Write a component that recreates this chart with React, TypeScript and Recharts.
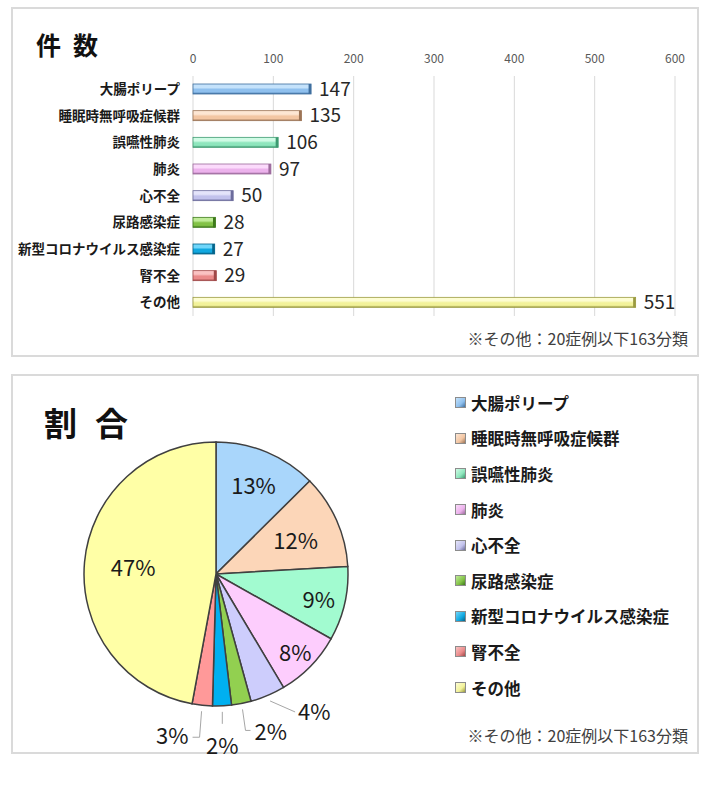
import React from 'react';
import {
  BarChart, Bar, XAxis, YAxis, CartesianGrid, LabelList,
  PieChart, Pie, Cell
} from 'recharts';

const categories = [
  '大腸ポリープ', '睡眠時無呼吸症候群', '誤嚥性肺炎', '肺炎', '心不全',
  '尿路感染症', '新型コロナウイルス感染症', '腎不全', 'その他'
];
const counts = [147, 135, 106, 97, 50, 28, 27, 29, 551];
const xTicks = [0, 100, 200, 300, 400, 500, 600];
const pctLabels = ['13%', '12%', '9%', '8%', '4%', '2%', '2%', '3%', '47%'];
const noteText = '※その他：20症例以下163分類';

const FONT = '"Noto Sans CJK JP", "Noto Sans", sans-serif';

// bar colours: light top, body, dark edge
const BAR_COLORS = [
  { light: '#c4e2fb', base: '#8fc0ee', dark: '#3f6f9f' },
  { light: '#fde6d3', base: '#f3c6a3', dark: '#9c7456' },
  { light: '#cffbe5', base: '#8ee6bd', dark: '#3c9a70' },
  { light: '#fbdafb', base: '#ecb2ec', dark: '#9c6a9c' },
  { light: '#e4e4fa', base: '#c2c2ec', dark: '#6c6c9c' },
  { light: '#c0ec98', base: '#82c246', dark: '#3e7a1c' },
  { light: '#70d6fa', base: '#10a8e0', dark: '#05648a' },
  { light: '#fac2c2', base: '#ea8a8a', dark: '#a04848' },
  { light: '#fdfdd2', base: '#f2f29a', dark: '#9a9a40' },
];
const PIE_COLORS = [
  '#a9d6fb', '#fcd6b8', '#a2fbd0', '#fdcdfd', '#cdcdfc',
  '#92d050', '#00b0f0', '#ff9999', '#ffffa6'
];

const barData = categories.map((name, i) => ({ name, value: counts[i] }));
const pieData = categories.map((name, i) => ({ name, value: counts[i] }));

const BarShape = (props: any) => {
  const { x, y, width, height, index } = props;
  const c = BAR_COLORS[index] || BAR_COLORS[0];
  if (!width) return null;
  return (
    <g>
      <rect x={x} y={y} width={width} height={height} fill={`url(#barGrad${index})`} stroke={c.dark} strokeWidth={0.8} />
      <rect x={x + width - 2.5} y={y} width={2.5} height={height} fill={c.dark} />
    </g>
  );
};

const RAD = Math.PI / 180;
const INSIDE_R = [0.74, 0.66, 0.8, 0.84, 0, 0, 0, 0, 0.63];

const renderPieLabel = (p: any) => {
  const { cx, cy, midAngle, outerRadius, index } = p;
  const cos = Math.cos(-midAngle * RAD);
  const sin = Math.sin(-midAngle * RAD);
  const txt = pctLabels[index];
  const textStyle = { fontFamily: FONT, fontSize: 22, fill: '#1a1a1a' };
  if (index < 4 || index === 8) {
    const r = outerRadius * INSIDE_R[index];
    return (
      <text x={cx + r * cos} y={cy + r * sin} textAnchor="middle" dominantBaseline="central" style={textStyle}>
        {txt}
      </text>
    );
  }
  const sx = cx + (outerRadius + 6) * cos;
  const sy = cy + (outerRadius + 6) * sin;
  const line = { stroke: '#a6a6a6', strokeWidth: 1, fill: 'none' };
  if (index === 4) {
    const ex = sx + 25, ey = sy + 11;
    return (
      <g>
        <path d={`M${sx},${sy}L${ex},${ey}`} {...line} />
        <text x={ex + 3} y={ey - 2} dominantBaseline="central" style={textStyle}>{txt}</text>
      </g>
    );
  }
  if (index === 5) {
    const mx = sx + 3, my = sy + 21;
    return (
      <g>
        <path d={`M${sx},${sy}L${mx},${my}L${mx + 5},${my}`} {...line} />
        <text x={mx + 9} y={my} dominantBaseline="central" style={textStyle}>{txt}</text>
      </g>
    );
  }
  if (index === 6) {
    const my = sy + 12;
    return (
      <g>
        <path d={`M${sx},${sy}L${sx},${my}`} {...line} />
        <text x={sx} y={my + 20} textAnchor="middle" dominantBaseline="central" style={textStyle}>{txt}</text>
      </g>
    );
  }
  const mx = sx - 2, my = sy + 26;
  return (
    <g>
      <path d={`M${sx},${sy}L${mx},${my}L${mx - 7},${my}`} {...line} />
      <text x={mx - 11} y={my - 3} textAnchor="end" dominantBaseline="central" style={textStyle}>{txt}</text>
    </g>
  );
};

const PieLegend = () => (
  <div style={{ position: 'absolute', left: 455, top: 385, fontFamily: FONT }}>
    {categories.map((name, i) => (
      <div key={name} style={{ height: 35.6, display: 'flex', alignItems: 'center' }}>
        <div
          style={{
            width: 9, height: 9, border: '1px solid #8c8c8c',
            background: `linear-gradient(135deg, ${BAR_COLORS[i].light}, ${BAR_COLORS[i].base} 60%, ${BAR_COLORS[i].dark})`,
          }}
        />
        <span style={{ marginLeft: 5, fontSize: 16.5, fontWeight: 700, color: '#1a1a1a', whiteSpace: 'nowrap' }}>{name}</span>
      </div>
    ))}
  </div>
);

const panel: React.CSSProperties = {
  position: 'absolute', left: 11, width: 688, border: '2px solid #dadada', boxSizing: 'border-box', background: '#fff',
};

export default function App() {
  return (
    <div style={{ position: 'absolute', left: 0, top: 0, width: 710, height: 800, background: '#fff', fontFamily: FONT }}>
      <div style={{ ...panel, top: 7, height: 350 }} />
      <div style={{ ...panel, top: 374, height: 380 }} />

      <div style={{ position: 'absolute', left: 0, top: 0 }}>
        <BarChart
          width={710}
          height={360}
          data={barData}
          layout="vertical"
          margin={{ top: 40, right: 35, bottom: 44, left: 0 }}
        >
          <defs>
            {BAR_COLORS.map((c, i) => (
              <linearGradient key={i} id={`barGrad${i}`} x1="0" y1="0" x2="0" y2="1">
                <stop offset="0%" stopColor={c.light} />
                <stop offset="35%" stopColor={c.light} />
                <stop offset="55%" stopColor={c.base} />
                <stop offset="80%" stopColor={c.base} />
                <stop offset="100%" stopColor={c.dark} />
              </linearGradient>
            ))}
          </defs>
          <CartesianGrid horizontal={false} stroke="#d9d9d9" />
          <XAxis
            type="number"
            orientation="top"
            domain={[0, 600]}
            ticks={xTicks}
            height={36}
            axisLine={false}
            tickLine={false}
            tickSize={0}
            tickMargin={13}
            tick={{ fontSize: 12, fill: '#595959', fontFamily: FONT }}
          />
          <YAxis
            type="category"
            dataKey="name"
            width={193}
            axisLine={false}
            tickLine={false}
            tickSize={0}
            tickMargin={13}
            interval={0}
            tick={{ fontSize: 13.5, fontWeight: 700, fill: '#1a1a1a', fontFamily: FONT }}
          />
          <Bar dataKey="value" barSize={10} shape={<BarShape />} isAnimationActive={false}>
            <LabelList dataKey="value" position="right" offset={8} style={{ fontSize: 19, fill: '#262626', fontFamily: FONT }} />
          </Bar>
        </BarChart>
      </div>

      <div style={{ position: 'absolute', left: 0, top: 374 }}>
        <PieChart width={710} height={390} margin={{ top: 0, right: 0, bottom: 0, left: 0 }}>
          <Pie
            data={pieData}
            dataKey="value"
            nameKey="name"
            cx={216}
            cy={200}
            outerRadius={132}
            startAngle={90}
            endAngle={-270}
            stroke="#404040"
            strokeWidth={1.5}
            label={renderPieLabel}
            labelLine={false}
            isAnimationActive={false}
          >
            {pieData.map((d, i) => (
              <Cell key={d.name} fill={PIE_COLORS[i]} />
            ))}
          </Pie>
        </PieChart>
      </div>
      <PieLegend />

      <div style={{ position: 'absolute', left: 36, top: 26, fontSize: 25, fontWeight: 700, color: '#111', letterSpacing: 12 }}>件数</div>
      <div style={{ position: 'absolute', left: 44, top: 398, fontSize: 33, fontWeight: 700, color: '#111', letterSpacing: 18 }}>割合</div>
      <div style={{ position: 'absolute', right: 22, top: 326, fontSize: 16, color: '#404040' }}>{noteText}</div>
      <div style={{ position: 'absolute', right: 22, top: 723, fontSize: 16, color: '#404040' }}>{noteText}</div>
    </div>
  );
}
